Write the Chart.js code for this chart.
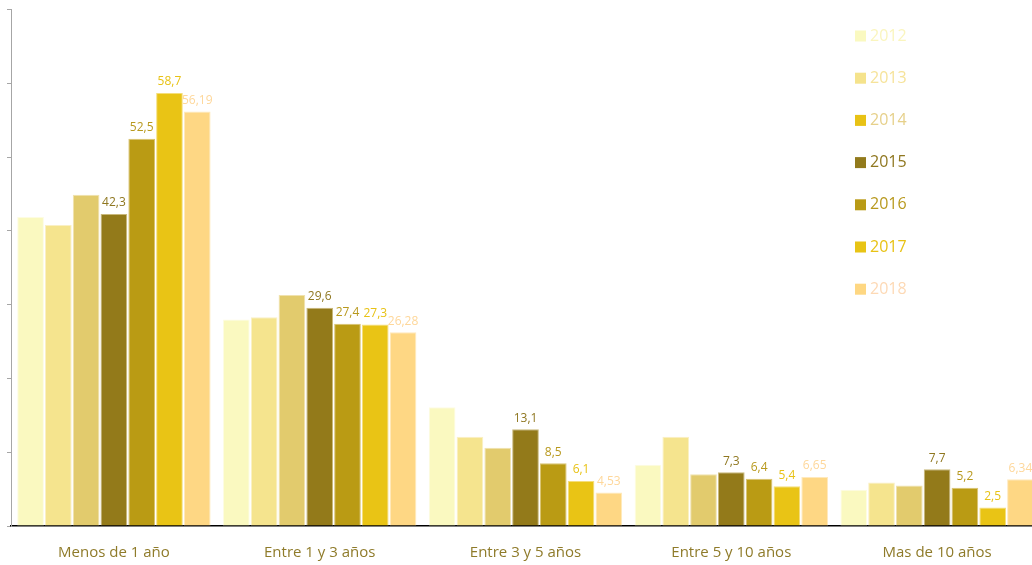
<!DOCTYPE html>
<html>
<head>
<meta charset="utf-8">
<script src="https://cdn.jsdelivr.net/npm/chart.js@4.4.1/dist/chart.umd.min.js"></script>
<style>
  html, body { margin: 0; padding: 0; background: #ffffff; overflow: hidden; }
  #wrap { width: 1040px; height: 565px; position: relative; }
</style>
</head>
<body>
<div id="wrap"><canvas id="c" width="1040" height="565"></canvas></div>
<script>
// Antigüedad: categorías y valores por año
const categories = ['Menos de 1 año', 'Entre 1 y 3 años', 'Entre 3 y 5 años', 'Entre 5 y 10 años', 'Mas de 10 años'];
const years = ['2012', '2013', '2014', '2015', '2016', '2017', '2018'];

const v2012 = [41.9, 28.0, 16.1, 8.3, 4.9];
const v2013 = [40.8, 28.3, 12.1, 12.1, 5.9];
const v2014 = [44.9, 31.3, 10.6, 7.0, 5.5];
const v2015 = [42.3, 29.6, 13.1, 7.3, 7.7];
const v2016 = [52.5, 27.4, 8.5, 6.4, 5.2];
const v2017 = [58.7, 27.3, 6.1, 5.4, 2.5];
const v2018 = [56.19, 26.28, 4.53, 6.65, 6.34];

const series = [v2012, v2013, v2014, v2015, v2016, v2017, v2018];
const barColors = ['#FAF9C0', '#F5E48E', '#E2CB6D', '#937A1A', '#BA9B14', '#E9C415', '#FED784'];
const edgeColors = ['#FDFCE2', '#FAF0C4', '#F0E2AE', '#C9B87A', '#D9C372', '#F5DE7A', '#FFE9BC'];
const legendBoxColors = ['#FAF9C0', '#F5E38C', '#E8C215', '#927A1C', '#B99B16', '#E8C415', '#FED782'];
const legendTextColors = ['#FAF5BE', '#F6E39A', '#E6D08A', '#8F7720', '#B8991E', '#E8C215', '#FDD9B5'];
const labelColors = [null, null, null, '#8F7720', '#B8991E', '#E8C215', '#FED79A'];

const datasets = series.map((vals, i) => ({
  label: years[i],
  data: vals,
  backgroundColor: barColors[i],
  borderColor: edgeColors[i],
  borderWidth: 1,
  categoryPercentage: 0.945,
  barPercentage: 0.96
}));

// Etiquetas de valor sobre las barras (solo 2015-2018)
const valueLabels = {
  id: 'valueLabels',
  afterDatasetsDraw(chart) {
    const ctx = chart.ctx;
    ctx.save();
    ctx.font = '500 12px "Open Sans"';
    ctx.textAlign = 'center';
    ctx.textBaseline = 'bottom';
    chart.data.datasets.forEach((ds, i) => {
      if (!labelColors[i]) return;
      const meta = chart.getDatasetMeta(i);
      ctx.fillStyle = labelColors[i];
      meta.data.forEach((bar, j) => {
        const txt = String(ds.data[j]).replace('.', ',');
        ctx.fillText(txt, bar.x, bar.y - 5);
      });
    });
    ctx.restore();
  }
};

// Leyenda vertical dentro del área del gráfico
const sideLegend = {
  id: 'sideLegend',
  afterDraw(chart) {
    const ctx = chart.ctx;
    ctx.save();
    ctx.font = '16px "Open Sans"';
    ctx.textBaseline = 'middle';
    ctx.textAlign = 'left';
    chart.data.datasets.forEach((ds, i) => {
      const y = 36 + i * 42.2;
      ctx.fillStyle = legendBoxColors[i];
      ctx.fillRect(855, y - 5.5, 11, 11);
      ctx.fillStyle = legendTextColors[i];
      ctx.fillText(ds.label, 870, y);
    });
    ctx.restore();
  }
};

new Chart(document.getElementById('c'), {
  type: 'bar',
  data: { labels: categories, datasets },
  options: {
    responsive: false,
    animation: false,
    layout: { padding: { top: 9.6, left: 0, right: 0, bottom: 0 } },
    plugins: { legend: { display: false }, tooltip: { enabled: false } },
    scales: {
      x: {
        grid: { display: false },
        border: { display: true, color: '#000000', width: 1.6 },
        ticks: {
          color: '#8F7B2A',
          font: { family: 'Open Sans', size: 15 },
          padding: 10,
          maxRotation: 0
        },
        afterFit(scale) { scale.height = 39; }
      },
      y: {
        min: 0,
        max: 70,
        ticks: { display: false, stepSize: 10 },
        grid: { drawOnChartArea: false, drawTicks: true, tickLength: 4, color: '#A6A6A6' },
        border: { display: true, color: '#A6A6A6', width: 1 },
        afterFit(scale) { scale.width = 11; }
      }
    }
  },
  plugins: [valueLabels, sideLegend]
});
</script>
</body>
</html>
